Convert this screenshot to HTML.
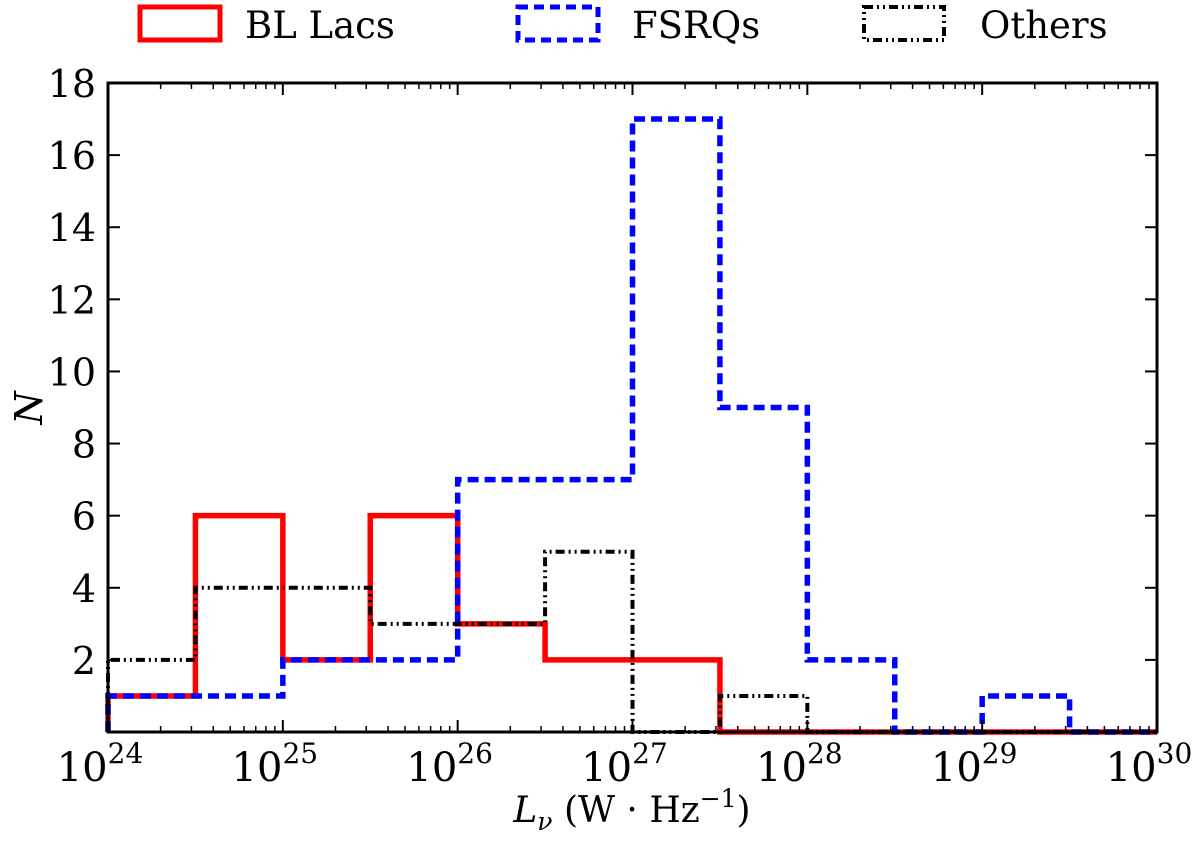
<!DOCTYPE html>
<html><head><meta charset="utf-8"><style>
body{margin:0;background:#fff}
svg text{font-family:"DejaVu Serif","Liberation Serif",serif;fill:#000}
</style></head><body>
<svg id="c" width="1200" height="840" xmlns="http://www.w3.org/2000/svg">
<g id="legend">
<g><rect x="140" y="7" width="80" height="33" fill="none" stroke="red" stroke-width="5"/><text x="245" y="38" font-size="37">BL Lacs</text></g>
<g><rect x="518" y="7" width="80" height="33" fill="none" stroke="blue" stroke-width="5" stroke-dasharray="10,6"/><text x="632" y="38" font-size="37">FSRQs</text></g>
<g><rect x="864" y="7" width="80" height="33" fill="none" stroke="#000" stroke-width="4" stroke-dasharray="9,4,2,4,2,4"/><text x="980" y="38" font-size="37">Others</text></g>
</g>
</svg>
<script>
const binEdgesExp=[24,24.5,25,25.5,26,26.5,27,27.5,28,28.5,29,29.5,30];
const blLacs=[1,6,2,6,3,2,2,0,0,0,0,0];
const fsrqs=[1,1,2,2,7,7,17,9,2,0,1,0];
const others=[2,4,4,3,3,5,0,1,0,0,0,0];
const yTicks=[2,4,6,8,10,12,14,16,18];
const xTicks=[24,25,26,27,28,29,30];
const L=108,R=1157,T=83,B=732;
const xs=e=>L+(e-24)/6*(R-L);
const ys=v=>B-v/18*(B-T);
const svg=document.getElementById('c');
const NS='http://www.w3.org/2000/svg';
function mk(t,a){const e=document.createElementNS(NS,t);for(const k in a)e.setAttribute(k,a[k]);svg.appendChild(e);return e;}
function step(vals,color,w,dash,name){
  let d='M'+xs(binEdgesExp[0])+','+ys(0);
  vals.forEach((v,i)=>{d+=' L'+xs(binEdgesExp[i])+','+ys(v)+' L'+xs(binEdgesExp[i+1])+','+ys(v);});
  d+=' L'+xs(binEdgesExp[vals.length])+','+ys(0);
  const p=mk('path',{d:d,fill:'none',stroke:color,'stroke-width':w});
  if(dash)p.setAttribute('stroke-dasharray',dash);
  
  
}
step(blLacs,'red',5.5,null,'series-bl-lacs');
step(fsrqs,'blue',5.5,'11,6','series-fsrqs');
step(others,'#000',4,'9,4,2,4,2,4','series-others');
const frame=mk('rect',{x:L,y:T,width:R-L,height:B-T,fill:'none',stroke:'#000','stroke-width':3});


yTicks.forEach(v=>{
  mk('line',{x1:L,x2:L+12,y1:ys(v),y2:ys(v),stroke:'#000','stroke-width':2});
  mk('line',{x1:R,x2:R-12,y1:ys(v),y2:ys(v),stroke:'#000','stroke-width':2});
  const t=mk('text',{x:L-12,y:ys(v)+14,'font-size':38,'text-anchor':'end'});t.textContent=v;
  
  
});
xTicks.forEach((e,i)=>{
  mk('line',{x1:xs(e),x2:xs(e),y1:B,y2:B-12,stroke:'#000','stroke-width':2});
  mk('line',{x1:xs(e),x2:xs(e),y1:T,y2:T+12,stroke:'#000','stroke-width':2});
  if(i<xTicks.length-1)for(let m=2;m<10;m++){const x=xs(e+Math.log10(m));
    mk('line',{x1:x,x2:x,y1:B,y2:B-6,stroke:'#000','stroke-width':1.5});
    mk('line',{x1:x,x2:x,y1:T,y2:T+6,stroke:'#000','stroke-width':1.5});}
  const t=mk('text',{x:xs(e)-8,y:B+49,'font-size':40,'text-anchor':'middle'});
  
  
  t.innerHTML='10<tspan dy="-18" font-size="28">'+e+'</tspan>';
});
const xt=mk('text',{x:632,y:822,'font-size':36,'text-anchor':'middle'});


xt.innerHTML='<tspan font-style="italic">L</tspan><tspan font-style="italic" font-size="25" dy="8">ν</tspan><tspan dy="-8"> (W · Hz</tspan><tspan dy="-15" font-size="25">−1</tspan><tspan dy="15">)</tspan>';
const yt=mk('text',{x:0,y:0,'font-size':38,'font-style':'italic','text-anchor':'middle',transform:'translate(42,408) rotate(-90)'});
yt.textContent='N';


</script>
</body></html>
